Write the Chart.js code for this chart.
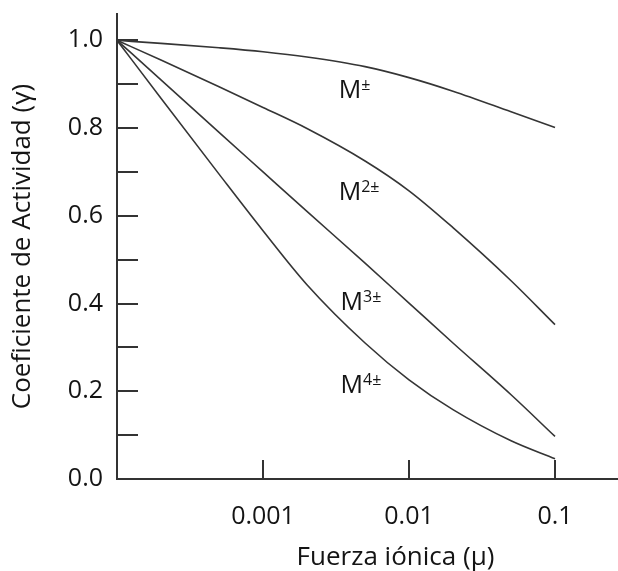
<!DOCTYPE html>
<html lang="es">
<head>
<meta charset="utf-8">
<title>Coeficiente de actividad vs fuerza iónica</title>
<script src="https://cdn.jsdelivr.net/npm/chart.js@4.4.0/dist/chart.umd.min.js"></script>
<style>
    html, body { margin: 0; padding: 0; background: #fff; }
    #contenedor { width: 618px; height: 571px; }
</style>
</head>
<body>
<div id="contenedor">
    <canvas id="graficoActividad" width="618" height="571"></canvas>
</div>
<script>
// Fuerza iónica (eje x, escala logarítmica)
const fuerzaIonica = [0.0001, 0.0002, 0.0005, 0.001, 0.002, 0.005, 0.01, 0.02, 0.05, 0.1];

const gammaM1 = [1.0, 0.993, 0.983, 0.974, 0.962, 0.940, 0.915, 0.884, 0.837, 0.801];
const gammaM2 = [1.0, 0.955, 0.894, 0.847, 0.799, 0.725, 0.657, 0.573, 0.452, 0.352];
const gammaM3 = [1.0, 0.910, 0.790, 0.700, 0.610, 0.492, 0.401, 0.310, 0.192, 0.097];
const gammaM4 = [1.0, 0.868, 0.695, 0.566, 0.443, 0.310, 0.226, 0.158, 0.087, 0.046];

// Etiquetas de las curvas: texto base, superíndice y posición en unidades de datos
const etiquetasBase = ["M", "M", "M", "M"];
const etiquetasSup = ["\u00B1", "2\u00B1", "3\u00B1", "4\u00B1"];
const etiquetasX = [0.0033, 0.0033, 0.0034, 0.0034];
const etiquetasY = [0.868, 0.636, 0.385, 0.196];

// Marcas de los ejes
const xTicks = [0.001, 0.01, 0.1];
const xTickLabels = ["0.001", "0.01", "0.1"];
const yTicks = [0, 0.1, 0.2, 0.3, 0.4, 0.5, 0.6, 0.7, 0.8, 0.9, 1.0];
const yTickLabels = ["0.0", "", "0.2", "", "0.4", "", "0.6", "", "0.8", "", "1.0"];

const tituloX = "Fuerza iónica (μ)";
const tituloY = "Coeficiente de Actividad (γ)";

const colorTexto = "#141414";
const colorEje = "#333333";
const colorCurva = "#353535";
const fuente = "'Open Sans', Lato, sans-serif";

Chart.defaults.font.family = fuente;
Chart.defaults.color = colorTexto;

const series = [gammaM1, gammaM2, gammaM3, gammaM4];
const datasets = series.map((valores, i) => ({
    label: etiquetasBase[i] + etiquetasSup[i],
    data: fuerzaIonica.map((mu, j) => ({ x: mu, y: valores[j] })),
    borderColor: colorCurva,
    borderWidth: 1.6,
    pointRadius: 0,
    fill: false,
    cubicInterpolationMode: "monotone"
}));

// Las marcas van hacia dentro (tickLength negativo), así que se anula el
// relleno extra que Chart.js reserva por el padding de las etiquetas.
function sinRelleno(scale) {
    scale.paddingTop = 0;
    scale.paddingBottom = 0;
    scale.paddingLeft = 0;
    scale.paddingRight = 0;
}

// Plugin: etiquetas M con superíndice y título del eje x (algo desplazado a la derecha como en el original)
const etiquetasCurvas = {
    id: "etiquetasCurvas",
    afterDatasetsDraw(chart) {
        const ctx = chart.ctx;
        const sx = chart.scales.x;
        const sy = chart.scales.y;
        const area = chart.chartArea;
        ctx.save();
        ctx.fillStyle = colorTexto;
        ctx.textBaseline = "alphabetic";
        ctx.textAlign = "left";
        etiquetasBase.forEach((base, i) => {
            const px = sx.getPixelForValue(etiquetasX[i]);
            const py = sy.getPixelForValue(etiquetasY[i]);
            ctx.font = "25px " + fuente;
            ctx.fillText(base, px, py);
            const ancho = ctx.measureText(base).width;
            ctx.font = "16px " + fuente;
            ctx.fillText(etiquetasSup[i], px + ancho, py - 8);
        });

        ctx.font = "26px " + fuente;
        ctx.textAlign = "center";
        ctx.textBaseline = "middle";
        ctx.fillText(tituloX, (area.left + area.right) / 2 + 28, area.bottom + 79);
        ctx.restore();
    }
};

new Chart(document.getElementById("graficoActividad"), {
    type: "line",
    data: { datasets: datasets },
    options: {
        responsive: false,
        animation: false,
        layout: { padding: { top: 14, right: 0, bottom: 0, left: 0 } },
        plugins: {
            legend: { display: false },
            tooltip: { enabled: false }
        },
        scales: {
            x: {
                type: "logarithmic",
                min: 0.0001,
                max: 0.27,
                afterBuildTicks: (scale) => { scale.ticks = xTicks.map(v => ({ value: v })); },
                afterFit: (scale) => { scale.height = 92; sinRelleno(scale); },
                ticks: {
                    autoSkip: false,
                    maxRotation: 0,
                    padding: 42,
                    font: { size: 25 },
                    color: colorTexto,
                    callback: (value) => {
                        const k = xTicks.findIndex(t => Math.abs(t - value) < t * 1e-6);
                        return k >= 0 ? xTickLabels[k] : "";
                    }
                },
                grid: {
                    drawOnChartArea: false,
                    drawTicks: true,
                    tickLength: -19,
                    color: colorEje,
                    lineWidth: 2
                },
                border: { display: true, color: colorEje, width: 2 },
                title: { display: false }
            },
            y: {
                type: "linear",
                min: 0,
                max: 1.06,
                afterBuildTicks: (scale) => { scale.ticks = yTicks.map(v => ({ value: v })); },
                afterFit: (scale) => { scale.width = 117; sinRelleno(scale); },
                ticks: {
                    padding: 35,
                    font: { size: 25 },
                    color: colorTexto,
                    callback: (value, index) => yTickLabels[index]
                },
                grid: {
                    drawOnChartArea: false,
                    drawTicks: true,
                    tickLength: -21,
                    color: colorEje,
                    lineWidth: 2
                },
                border: { display: true, color: colorEje, width: 2 },
                title: {
                    display: true,
                    text: tituloY,
                    font: { size: 26 },
                    color: colorTexto,
                    padding: { top: 7, bottom: 0 }
                }
            }
        }
    },
    plugins: [etiquetasCurvas]
});
</script>
</body>
</html>
